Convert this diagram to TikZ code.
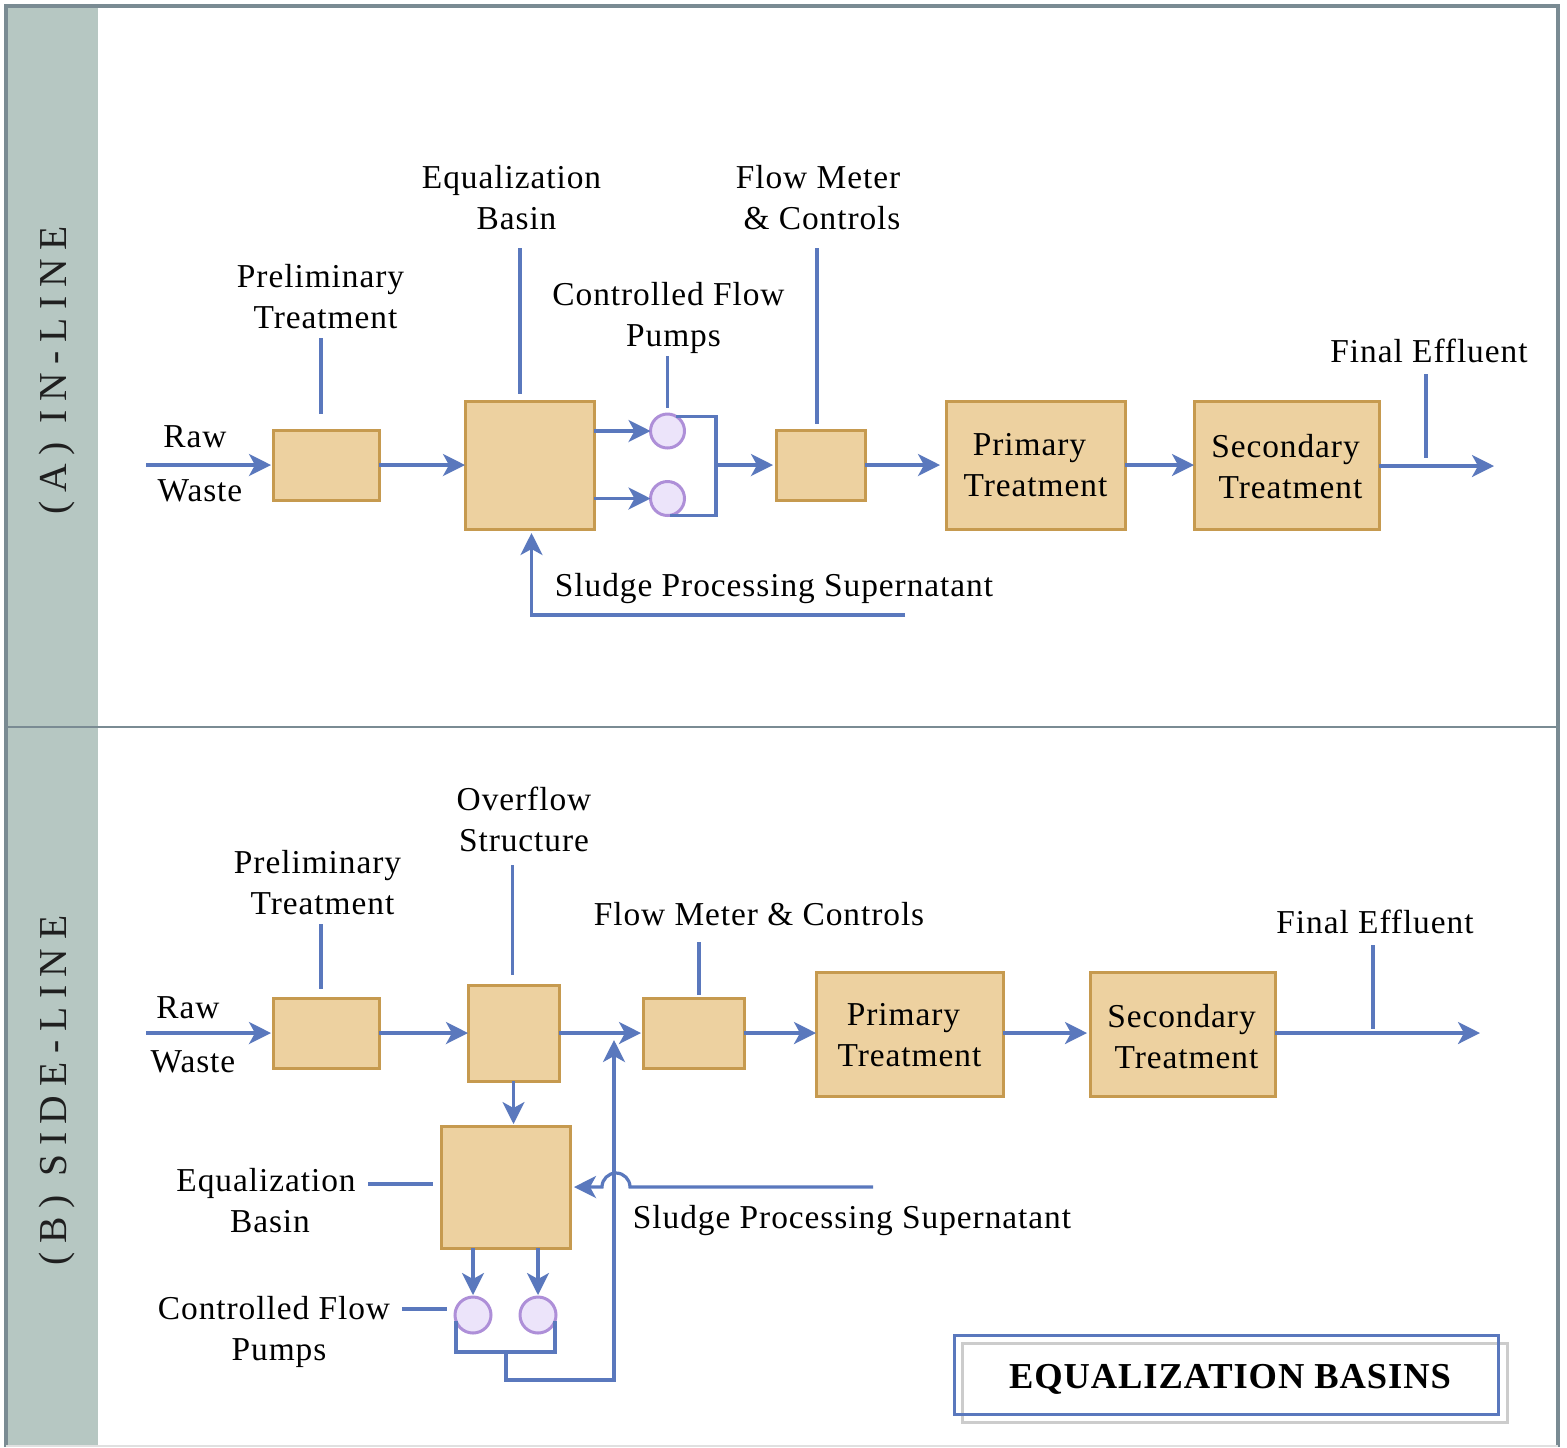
\documentclass[tikz,border=0pt]{standalone}
\usepackage{fontspec}
\usetikzlibrary{arrows.meta}
\setmainfont{Liberation Serif}
\newfontfamily\lblfont[LetterSpace=2.8]{Liberation Serif}
\newfontfamily\bandfont[LetterSpace=22]{Liberation Serif}
\newfontfamily\ttlfont[LetterSpace=2.5]{Liberation Serif}
\definecolor{flow}{HTML}{5A78BD}
\definecolor{boxfill}{HTML}{EDD1A0}
\definecolor{boxline}{HTML}{C69A4F}
\definecolor{pumpfill}{HTML}{ECE4FA}
\definecolor{pumpline}{HTML}{AE8FD8}
\definecolor{bandfill}{HTML}{B6C7C2}
\definecolor{frameline}{HTML}{7A8B93}
\tikzset{
  x=0.5pt,y=-0.5pt,
  ln/.style={draw=flow,line width=1.6pt},
  arr/.style={ln,-{Stealth[length=11pt,width=11pt,inset=3pt]}},
  bx/.style 2 args={draw=boxline,fill=boxfill,line width=1.5pt,anchor=north west,inner sep=0pt,outer sep=0pt,minimum width=#1*0.5pt,minimum height=#2*0.5pt},
  pump/.style={circle,draw=pumpline,fill=pumpfill,line width=1.5pt,inner sep=0pt,outer sep=0pt,minimum size=#1*1pt},
  lbl/.style={font=\lblfont\fontsize{16.7}{20.5}\selectfont,align=center,inner sep=0pt,text=black},
  band/.style={font=\bandfont\fontsize{19.8}{24}\selectfont,rotate=90,inner sep=0pt,text=black!88},
}
\begin{document}
\begin{tikzpicture}
\useasboundingbox (0,0) rectangle (1567,1447);
\fill[white] (0,0) rectangle (1567,1447);
% bands and frame
\fill[bandfill] (6,6) rectangle (98,1446);
\draw[frameline,line width=1.4pt] (1558,727) -- (6,727);
\draw[frameline,line width=2pt] (6,1447) -- (6,6) -- (1558,6) -- (1558,1447);
\draw[black!12,line width=0.8pt] (6,1446) -- (1558,1446);
\node[band] (bandA) at (57,370.5) {(A) IN-LINE};
\node[band] (bandB) at (57,1090.5) {(B) SIDE-LINE};

% ===== (A) in-line =====
\node[bx={106}{70}] (prelimA) at (273,430) {};
\node[bx={129}{128}] (eqA) at (465,401) {};
\node[bx={89}{70}] (meterA) at (776,430) {};
\node[bx={179}{128}] (primA) at (946,401) {};
\node[bx={185}{128}] (secA) at (1194,401) {};
\node[pump=17] (p1A) at (667.5,431) {};
\node[pump=17] (p2A) at (667.5,498.5) {};

\node[lbl] (rawA) at (195,437) {Raw};
\node[lbl] (wasteA) at (200,491) {Waste};
\node[lbl] (tprelimA) at (320.5,296.5) {Preliminary\\\hspace*{5pt}Treatment};
\node[lbl] (teqA) at (511.5,197.5) {Equalization\\\hspace*{5pt}Basin};
\node[lbl] (tmeterA) at (818,197.5) {Flow Meter\\\hspace*{4pt}\& Controls};
\node[lbl] (tpumpA) at (668.5,318) {Controlled Flow\\\hspace*{5pt}Pumps};
\node[lbl] (teffA) at (1429,351) {Final Effluent};
\node[lbl] (tprimA) at (1035.5,465.5) {Primary\hspace*{6pt}\\Treatment};
\node[lbl] (tsecA) at (1285.5,467) {Secondary\\\hspace*{5pt}Treatment};
\node[lbl] (tslA) at (774,589) {Sludge Processing Supernatant};

\coordinate (inA) at (146,465);
\coordinate (outA) at (1494,466);
\coordinate (busA) at (716,465);
\coordinate (slA) at (905,615);
\coordinate (c1a) at (321,338); \coordinate (c1b) at (321,414);
\coordinate (c2a) at (520,248); \coordinate (c2b) at (520,394);
\coordinate (c3a) at (667.5,356); \coordinate (c3b) at (667.5,408);
\coordinate (c4a) at (817,248); \coordinate (c4b) at (817,424);
\coordinate (c5a) at (1426,374); \coordinate (c5b) at (1426,458);

\draw[ln] (c1a) -- (c1b);
\draw[ln] (c2a) -- (c2b);
\draw[ln] (c3a) -- (c3b);
\draw[ln] (c4a) -- (c4b);
\draw[ln] (c5a) -- (c5b);

\draw[arr,shorten >=1pt] (inA) -- (prelimA.west);
\draw[arr] (prelimA.east) -- (eqA.west);
\draw[arr] (eqA.east |- p1A) -- (p1A.west);
\draw[arr] (eqA.east |- p2A) -- (p2A.west);
\draw[ln] (p1A.60) -| (busA) |- (p2A.-80);
\draw[arr,shorten >=1.5pt] (busA) -- (meterA.west);
\draw[arr,shorten >=3pt] (meterA.east) -- (primA.west);
\draw[arr] (primA.east) -- (secA.west);
\draw[arr] (secA.east |- outA) -- (outA);
\draw[arr,shorten >=2pt] (slA) -| ([xshift=1pt]eqA.south);

% ===== (B) side-line =====
\node[bx={106}{70}] (prelimB) at (273,998) {};
\node[bx={91}{96}] (ovB) at (468,985) {};
\node[bx={101}{70}] (meterB) at (643,998) {};
\node[bx={187}{124}] (primB) at (816,972) {};
\node[bx={185}{124}] (secB) at (1090,972) {};
\node[bx={129}{122}] (eqB) at (441,1126) {};
\node[pump=18] (p1B) at (473,1315) {};
\node[pump=18] (p2B) at (538,1315) {};

\node[lbl] (rawB) at (188,1008) {Raw};
\node[lbl] (wasteB) at (193,1062) {Waste};
\node[lbl] (tprelimB) at (317.5,882.5) {Preliminary\\\hspace*{5pt}Treatment};
\node[lbl] (tovB) at (524,819.5) {Overflow\\Structure};
\node[lbl] (tmeterB) at (759,914) {Flow Meter \& Controls};
\node[lbl] (teffB) at (1375,922) {Final Effluent};
\node[lbl] (tprimB) at (909.5,1035) {Primary\hspace*{6pt}\\Treatment};
\node[lbl] (tsecB) at (1181.5,1037) {Secondary\\\hspace*{5pt}Treatment};
\node[lbl] (teqB) at (266,1201) {Equalization\\\hspace*{4pt}Basin};
\node[lbl] (tpumpB) at (274,1332) {Controlled Flow\\\hspace*{5pt}Pumps};
\node[lbl] (tslB) at (852,1220) {Sludge Processing Supernatant};

\coordinate (inB) at (146,1033);
\coordinate (outB) at (1480,1033);
\coordinate (d1a) at (321,924); \coordinate (d1b) at (321,989);
\coordinate (d2a) at (512.5,865); \coordinate (d2b) at (512.5,975);
\coordinate (d3a) at (699,942); \coordinate (d3b) at (699,995);
\coordinate (d4a) at (1373,945); \coordinate (d4b) at (1373,1029);
\coordinate (d5a) at (368,1184); \coordinate (d5b) at (433,1184);
\coordinate (d6a) at (402,1309); \coordinate (d6b) at (447,1309);
\coordinate (busB) at (506,1352);
\coordinate (riseB) at (614,1380);
\coordinate (tipB) at (614,1040);
\coordinate (slB) at (873,1187);
\coordinate (jumpB) at (630,1187);

\draw[ln] (d1a) -- (d1b);
\draw[ln] (d2a) -- (d2b);
\draw[ln] (d3a) -- (d3b);
\draw[ln] (d4a) -- (d4b);
\draw[ln] (d5a) -- (d5b);
\draw[ln] (d6a) -- (d6b);

\draw[arr,shorten >=1pt] (inB) -- (prelimB.west);
\draw[arr] (prelimB.east) -- (ovB.west);
\draw[arr,shorten >=1pt] (ovB.east) -- (meterB.west);
\draw[arr] (meterB.east) -- (primB.west |- meterB.east);
\draw[arr,shorten >=1.5pt] (primB.east |- inB) -- (secB.west |- inB);
\draw[arr] (secB.east |- outB) -- (outB);
\draw[arr,shorten >=1pt] (ovB.south) -- (ovB.south |- eqB.north);
\draw[arr,shorten >=1pt] (eqB.south -| p1B) -- (p1B.north);
\draw[arr,shorten >=1pt] (eqB.south -| p2B) -- (p2B.north);
\draw[ln] (p1B.-160) |- (busB) -| (p2B.-20);
\draw[arr] (busB) |- (riseB) -- (tipB);
\draw[arr,shorten >=2pt] (slB) -- (jumpB) arc[start angle=0,end angle=180,radius=7pt] -- (eqB.east |- slB);

% ===== title =====
\node[draw=black!20,line width=1.5pt,anchor=north west,inner sep=0pt,minimum width=272.5pt,minimum height=39.5pt] (ttlback) at (961,1342) {};
\node[draw=flow,line width=1.5pt,anchor=north west,inner sep=0pt,minimum width=272pt,minimum height=39.5pt] (ttlfront) at (953,1334) {};
\node[font=\ttlfont\bfseries\fontsize{18.25}{22}\selectfont,inner sep=0pt] (ttl) at (1230,1379) {EQUALIZATION BASINS};
\end{tikzpicture}
\end{document}
